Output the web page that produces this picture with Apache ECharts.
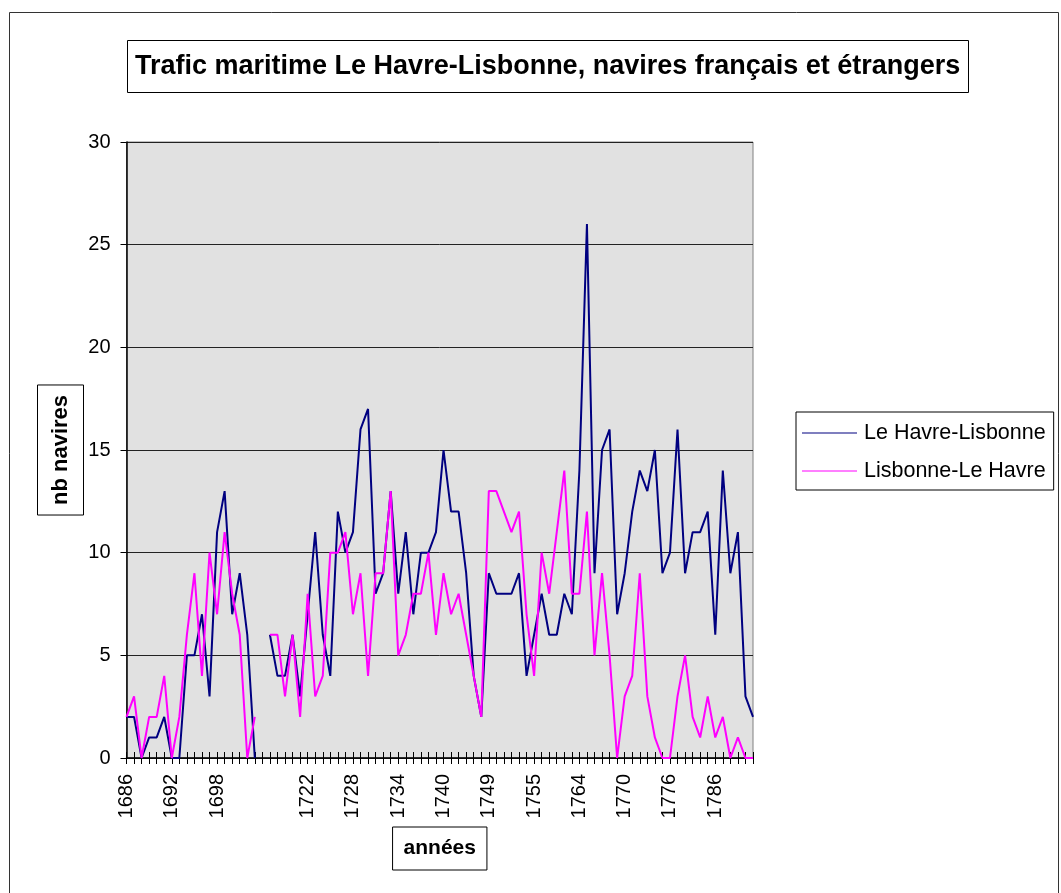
<!DOCTYPE html>
<html>
<head>
<meta charset="utf-8">
<script src="https://cdn.jsdelivr.net/npm/echarts@6/dist/echarts.min.js"></script>
<style>
html,body{margin:0;padding:0;background:#fff;}
#chart{width:1061px;height:893px;}
</style>
</head>
<body>
<div id="chart"></div>
<script>
// categories (years); index 18 is an empty category (gap)
var years = [
  '1686','1687','1688','1689','1690','1691','1692','1693','1694','1695','1696','1697','1698','1699','1700','1701','1702','1703',
  '',
  '1717','1718','1719','1720','1721','1722','1723','1724','1725','1726','1727','1728','1729','1730','1731','1732','1733','1734',
  '1735','1736','1737','1738','1739','1740',
  '1741','1742','1743','1745','1748','1749',
  '1750','1751','1752','1753','1754','1755',
  '1756','1757','1759','1761','1763','1764',
  '1765','1766','1767','1768','1769','1770',
  '1771','1772','1773','1774','1775','1776',
  '1777','1778','1779','1780','1784','1786',
  '1787','1788','1789','1790','1791'
];
var havreLisbonne = [
  2,2,0,1,1,2,0,0,5,5,7,3,11,13,7,9,6,0,
  null,
  6,4,4,6,3,7,11,6,4,12,10,11,16,17,8,9,13,8,11,7,10,10,11,15,
  12,12,9,4,2,9,
  8,8,8,9,4,6,
  8,6,6,8,7,14,
  26,9,15,16,7,9,
  12,14,13,15,9,10,
  16,9,11,11,12,6,
  14,9,11,3,2
];
var lisbonneHavre = [
  2,3,0,2,2,4,0,2,6,9,4,10,7,11,8,6,0,2,
  null,
  6,6,3,6,2,8,3,4,10,10,11,7,9,4,9,9,13,5,6,8,8,10,6,9,
  7,8,6,4,2,13,
  13,12,11,12,7,4,
  10,8,11,14,8,8,
  12,5,9,5,0,3,
  4,9,3,1,0,0,
  3,5,2,1,3,1,
  2,0,1,0,0
];
var yTicks = {min: 0, max: 30, interval: 5};

var FONT = '"Liberation Sans", Arial, sans-serif';
var chart = echarts.init(document.getElementById('chart'), null, {renderer: 'canvas'});
chart.setOption({
  animation: false,
  backgroundColor: '#fff',
  graphic: [{
    type: 'rect', silent: true,
    shape: {x: 9.5, y: 12.5, width: 1049, height: 900},
    style: {fill: 'none', stroke: '#333', lineWidth: 1}
  }],
  title: {
    text: 'Trafic maritime Le Havre-Lisbonne, navires français et étrangers',
    left: 127, top: 40,
    padding: [13, 8, 13, 8],
    borderColor: '#000', borderWidth: 1,
    textStyle: {fontFamily: FONT, fontSize: 27, fontWeight: 'bold', color: '#000'}
  },
  legend: {
    orient: 'vertical',
    left: 796, top: 412,
    padding: [10, 8, 8, 6],
    borderColor: '#000', borderWidth: 1,
    itemWidth: 55, itemHeight: 20, itemGap: 16,
    icon: 'path://M0,9.5L55,9.5L55,10.5L0,10.5Z',
    textStyle: {fontFamily: FONT, fontSize: 21.5, color: '#000', padding: [0, 0, 0, 2]},
    data: ['Le Havre-Lisbonne', 'Lisbonne-Le Havre']
  },
  grid: {
    left: 126.5, right: 308, top: 142, bottom: 135,
    show: true, backgroundColor: '#e1e1e1', borderColor: '#808080', borderWidth: 1,
    containLabel: false
  },
  xAxis: [{
    type: 'category', data: years, boundaryGap: false,
    axisLine: {lineStyle: {color: '#000', width: 1.5}},
    axisTick: {show: true, interval: 0, length: 6, inside: false, lineStyle: {color: '#000', width: 1}},
    axisLabel: {interval: 5, rotate: 90, margin: 16, fontFamily: FONT, fontSize: 20, color: '#000'},
    splitLine: {show: false},
    name: 'années', nameLocation: 'middle', nameGap: 69, nameMoveOverlap: false,
    nameTextStyle: {fontFamily: FONT, fontSize: 21, fontWeight: 'bold', color: '#000',
      borderColor: '#000', borderWidth: 1, padding: [11, 11, 11, 11]}
  }, {
    type: 'category', data: years, boundaryGap: false, position: 'bottom',
    axisLine: {show: false},
    axisTick: {show: true, interval: 0, length: 6, inside: true, lineStyle: {color: '#000', width: 1}},
    axisLabel: {show: false}, splitLine: {show: false}
  }],
  yAxis: {
    type: 'value', min: yTicks.min, max: yTicks.max, interval: yTicks.interval,
    axisLine: {show: true, lineStyle: {color: '#000', width: 1.5}},
    axisTick: {show: true, length: 6, lineStyle: {color: '#000'}},
    axisLabel: {margin: 16, fontFamily: FONT, fontSize: 20, color: '#000'},
    splitLine: {show: true, lineStyle: {color: '#222', width: 1}},
    name: 'nb navires', nameLocation: 'middle', nameGap: 43, nameRotate: 90, nameMoveOverlap: false,
    nameTextStyle: {fontFamily: FONT, fontSize: 22, fontWeight: 'bold', color: '#000',
      borderColor: '#000', borderWidth: 1, padding: [12, 10, 12, 10]}
  },
  series: [{
    name: 'Le Havre-Lisbonne', type: 'line', data: havreLisbonne,
    xAxisIndex: 0, connectNulls: false, showSymbol: false, symbol: 'none',
    lineStyle: {color: '#000080', width: 2}, itemStyle: {color: '#000080'}
  }, {
    name: 'Lisbonne-Le Havre', type: 'line', data: lisbonneHavre,
    xAxisIndex: 0, connectNulls: false, showSymbol: false, symbol: 'none',
    lineStyle: {color: '#ff00ff', width: 2}, itemStyle: {color: '#ff00ff'}
  }]
});
</script>
</body>
</html>
